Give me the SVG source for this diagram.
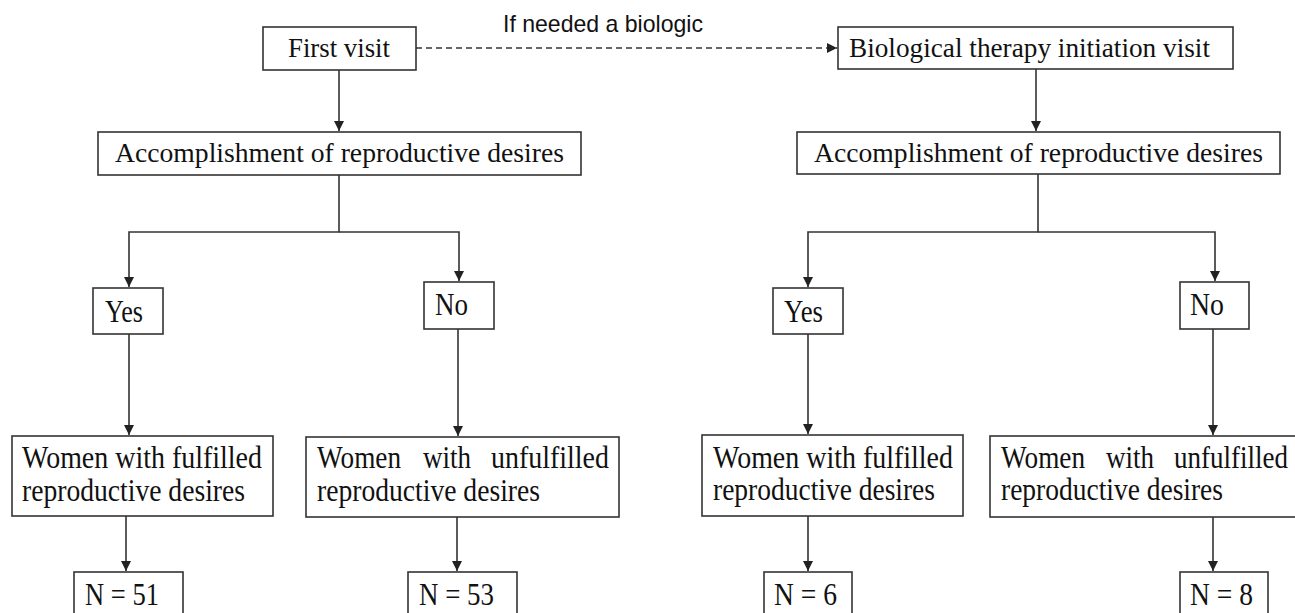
<svg xmlns="http://www.w3.org/2000/svg" width="1295" height="613" viewBox="0 0 1295 613">
<style>
.box{fill:#fff;stroke:#333;stroke-width:1.6}
.pal{font-family:"Liberation Serif","Times New Roman",serif;font-size:27px;fill:#111}
.tnr{font-family:"Liberation Serif","Times New Roman",serif;font-size:31px;fill:#111}
.sans{font-family:"Liberation Sans",Arial,sans-serif;font-size:24px;fill:#111}
.ln{fill:none;stroke:#333;stroke-width:1.6}
.dash{stroke-dasharray:6 4}
</style>
<defs>
<marker id="ah" markerUnits="userSpaceOnUse" markerWidth="10" markerHeight="12" viewBox="0 0 10 12" refX="10" refY="5" orient="auto">
<path d="M0,0 L10,5 L0,10 Z" fill="#222"/>
</marker>
</defs>
<rect width="1295" height="613" fill="#fff"/>
<g id="connectors">
<line class="ln dash" x1="416" y1="48" x2="837" y2="48" marker-end="url(#ah)"/>
<text class="sans" x="503" y="32" textLength="200" lengthAdjust="spacingAndGlyphs">If needed a biologic</text>
<line class="ln" x1="339" y1="70" x2="339" y2="131" marker-end="url(#ah)"/>
<line class="ln" x1="1036" y1="69" x2="1036" y2="131" marker-end="url(#ah)"/>
<polyline class="ln" points="339,175 339,232 129,232 129,287" marker-end="url(#ah)"/>
<polyline class="ln" points="339,232 459,232 459,281" marker-end="url(#ah)"/>
<polyline class="ln" points="1038,174 1038,232 808,232 808,287" marker-end="url(#ah)"/>
<polyline class="ln" points="1038,232 1215,232 1215,281" marker-end="url(#ah)"/>
<line class="ln" x1="129" y1="334" x2="129" y2="435" marker-end="url(#ah)"/>
<line class="ln" x1="458" y1="329" x2="458" y2="436" marker-end="url(#ah)"/>
<line class="ln" x1="808" y1="334" x2="808" y2="434" marker-end="url(#ah)"/>
<line class="ln" x1="1213" y1="329" x2="1213" y2="435" marker-end="url(#ah)"/>
<line class="ln" x1="126" y1="516" x2="126" y2="571" marker-end="url(#ah)"/>
<line class="ln" x1="457" y1="517" x2="457" y2="571" marker-end="url(#ah)"/>
<line class="ln" x1="808" y1="516" x2="808" y2="571" marker-end="url(#ah)"/>
<line class="ln" x1="1213" y1="517" x2="1213" y2="571" marker-end="url(#ah)"/>
</g>
<g id="first-visit">
<rect class="box" x="263" y="27" width="153" height="43"/>
<text class="pal" x="288" y="57" textLength="102" lengthAdjust="spacingAndGlyphs">First visit</text>
</g>
<g id="bio-visit">
<rect class="box" x="838" y="27" width="395" height="42"/>
<text class="pal" x="849" y="57" textLength="361" lengthAdjust="spacingAndGlyphs">Biological therapy initiation visit</text>
</g>
<g id="accomp-left">
<rect class="box" x="98" y="132" width="483" height="43"/>
<text class="pal" x="115" y="162" textLength="449" lengthAdjust="spacingAndGlyphs">Accomplishment of reproductive desires</text>
</g>
<g id="accomp-right">
<rect class="box" x="797" y="132" width="483" height="42"/>
<text class="pal" x="814" y="162" textLength="449" lengthAdjust="spacingAndGlyphs">Accomplishment of reproductive desires</text>
</g>
<g id="yes-left">
<rect class="box" x="93" y="288" width="70" height="46"/>
<text class="tnr" x="105" y="322" textLength="38" lengthAdjust="spacingAndGlyphs">Yes</text>
</g>
<g id="no-left">
<rect class="box" x="424" y="282" width="70" height="47"/>
<text class="tnr" x="435" y="315" textLength="33" lengthAdjust="spacingAndGlyphs">No</text>
</g>
<g id="yes-right">
<rect class="box" x="773" y="288" width="70" height="46"/>
<text class="tnr" x="784" y="322" textLength="39" lengthAdjust="spacingAndGlyphs">Yes</text>
</g>
<g id="no-right">
<rect class="box" x="1180" y="282" width="69" height="47"/>
<text class="tnr" x="1190" y="315" textLength="34" lengthAdjust="spacingAndGlyphs">No</text>
</g>
<g id="fulfilled-left">
<rect class="box" x="12" y="436" width="261" height="80"/>
<text class="tnr" x="22" y="468" textLength="240" lengthAdjust="spacingAndGlyphs">Women with fulfilled</text>
<text class="tnr" x="22" y="501" textLength="223" lengthAdjust="spacingAndGlyphs">reproductive desires</text>
</g>
<g id="unfulfilled-left">
<rect class="box" x="306" y="437" width="313" height="80"/>
<text class="tnr" x="317" y="468" textLength="84" lengthAdjust="spacingAndGlyphs">Women</text>
<text class="tnr" x="423" y="468" textLength="48" lengthAdjust="spacingAndGlyphs">with</text>
<text class="tnr" x="491" y="468" textLength="118" lengthAdjust="spacingAndGlyphs">unfulfilled</text>
<text class="tnr" x="317" y="501" textLength="223" lengthAdjust="spacingAndGlyphs">reproductive desires</text>
</g>
<g id="fulfilled-right">
<rect class="box" x="702" y="435" width="261" height="81"/>
<text class="tnr" x="713" y="468" textLength="240" lengthAdjust="spacingAndGlyphs">Women with fulfilled</text>
<text class="tnr" x="713" y="500" textLength="222" lengthAdjust="spacingAndGlyphs">reproductive desires</text>
</g>
<g id="unfulfilled-right">
<rect class="box" x="990" y="436" width="320" height="81"/>
<text class="tnr" x="1001" y="468" textLength="84" lengthAdjust="spacingAndGlyphs">Women</text>
<text class="tnr" x="1106" y="468" textLength="48" lengthAdjust="spacingAndGlyphs">with</text>
<text class="tnr" x="1174" y="468" textLength="114" lengthAdjust="spacingAndGlyphs">unfulfilled</text>
<text class="tnr" x="1001" y="500" textLength="222" lengthAdjust="spacingAndGlyphs">reproductive desires</text>
</g>
<g id="n51">
<rect class="box" x="74" y="572" width="109" height="50"/>
<text class="tnr" x="85" y="605" textLength="74" lengthAdjust="spacingAndGlyphs">N = 51</text>
</g>
<g id="n53">
<rect class="box" x="408" y="572" width="109" height="50"/>
<text class="tnr" x="419" y="605" textLength="75" lengthAdjust="spacingAndGlyphs">N = 53</text>
</g>
<g id="n6">
<rect class="box" x="764" y="572" width="88" height="50"/>
<text class="tnr" x="774" y="605" textLength="63" lengthAdjust="spacingAndGlyphs">N = 6</text>
</g>
<g id="n8">
<rect class="box" x="1180" y="572" width="88" height="50"/>
<text class="tnr" x="1190" y="605" textLength="63" lengthAdjust="spacingAndGlyphs">N = 8</text>
</g>
</svg>
